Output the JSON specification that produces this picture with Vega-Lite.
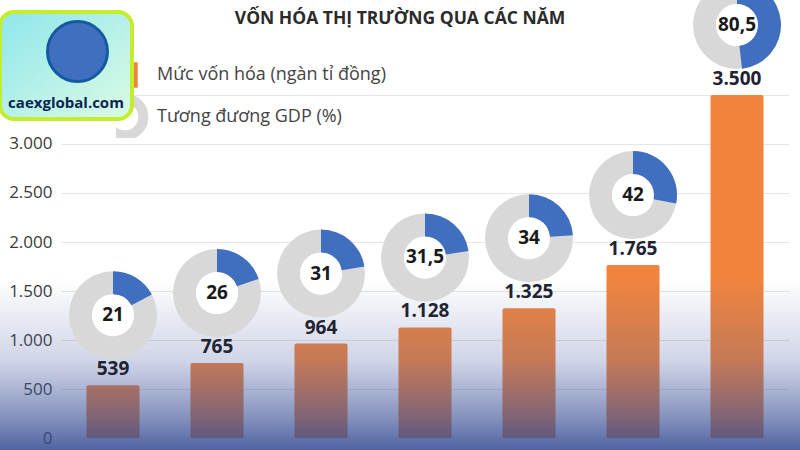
{
  "$schema": "https://vega.github.io/schema/vega-lite/v6.json",
  "width": 800,
  "height": 450,
  "padding": 0,
  "autosize": {"type": "none"},
  "background": "#ffffff",
  "config": {
    "locale": {"number": {"decimal": ",", "thousands": ".", "grouping": [3], "currency": ["", " ₫"]}},
    "view": {"stroke": null},
    "font": "Open Sans"
  },
  "title": {
    "text": "VỐN HÓA THỊ TRƯỜNG QUA CÁC NĂM",
    "anchor": "middle",
    "frame": "group",
    "offset": -47,
    "fontSize": 17.5,
    "fontWeight": "bold",
    "color": "#2b2b2b",
    "font": "Open Sans"
  },
  "data": {
    "values": [
      {"stt": 1, "von": 539, "gdp": 21},
      {"stt": 2, "von": 765, "gdp": 26},
      {"stt": 3, "von": 964, "gdp": 31},
      {"stt": 4, "von": 1128, "gdp": 31.5},
      {"stt": 5, "von": 1325, "gdp": 34},
      {"stt": 6, "von": 1765, "gdp": 42},
      {"stt": 7, "von": 3500, "gdp": 80.5}
    ]
  },
  "resolve": {"scale": {"color": "independent"}},
  "layer": [
    {
      "mark": {"type": "bar", "cornerRadiusTopLeft": 2, "cornerRadiusTopRight": 2},
      "encoding": {
        "x": {"field": "stt", "type": "ordinal", "axis": null, "scale": {"range": [61, 789], "paddingInner": 0.49, "paddingOuter": 0.245}},
        "y": {
          "field": "von", "type": "quantitative", "title": null,
          "scale": {"domain": [-122, 4469], "nice": false, "zero": false},
          "axis": {
            "values": [0, 500, 1000, 1500, 2000, 2500, 3000, 3500],
            "format": ",.0f",
            "offset": -56,
            "domain": false,
            "ticks": false,
            "labelPadding": 4,
            "labelFontSize": 17,
            "labelColor": "#3a3a3a",
            "labelFont": "Open Sans",
            "grid": true,
            "gridColor": "#e6e6e6"
          }
        },
        "y2": {"datum": 0},
        "color": {
          "datum": "Mức vốn hóa (ngàn tỉ đồng)",
          "scale": {"domain": ["Mức vốn hóa (ngàn tỉ đồng)", "Tương đương GDP (%)"], "range": ["#f0843f", "#d8d8d8"]},
          "legend": {
            "orient": "none",
            "legendX": 116,
            "legendY": 54,
            "title": null,
            "padding": 0,
            "symbolType": "circle",
            "symbolSize": 1350,
            "symbolStrokeWidth": 10,
            "clipHeight": 42,
            "labelOffset": 23,
            "rowPadding": 0,
            "labelFontSize": 18,
            "labelColor": "#444444",
            "labelFont": "Open Sans",
            "labelLimit": 400,
            "encode": {
              "symbols": {
                "update": {
                  "shape": {"signal": "datum.index === 0 ? 'square' : 'circle'"},
                  "size": {"signal": "datum.index === 0 ? 650 : 1350"},
                  "fillOpacity": {"signal": "datum.index === 0 ? 1 : 0"},
                  "stroke": {"signal": "datum.index === 0 ? null : '#d8d8d8'"},
                  "strokeWidth": {"signal": "datum.index === 0 ? 0 : 10"}
                }
              }
            }
          }
        }
      }
    },
    {
      "data": {"values": [{}]},
      "mark": {
        "type": "rect",
        "color": {
          "gradient": "linear", "x1": 0, "y1": 0, "x2": 0, "y2": 1,
          "stops": [
            {"offset": 0, "color": "rgba(70,90,160,0)"},
            {"offset": 0.62, "color": "rgba(70,90,160,0)"},
            {"offset": 0.8, "color": "rgba(70,90,160,0.25)"},
            {"offset": 0.92, "color": "rgba(60,80,150,0.6)"},
            {"offset": 1, "color": "rgba(50,72,145,0.85)"}
          ]
        }
      }
    },
    {
      "mark": {"type": "arc", "innerRadius": 21, "outerRadius": 44, "theta": 0, "theta2": 6.2832, "color": "#d8d8d8", "yOffset": -70},
      "encoding": {
        "x": {"field": "stt", "type": "ordinal", "axis": null},
        "y": {"field": "von", "type": "quantitative", "title": null}
      }
    },
    {
      "mark": {"type": "arc", "innerRadius": 0, "outerRadius": 21, "theta": 0, "theta2": 6.2832, "color": "#ffffff", "yOffset": -70},
      "encoding": {
        "x": {"field": "stt", "type": "ordinal", "axis": null},
        "y": {"field": "von", "type": "quantitative", "title": null}
      }
    },
    {
      "mark": {"type": "arc", "innerRadius": 21, "outerRadius": 44, "yOffset": -70},
      "encoding": {
        "x": {"field": "stt", "type": "ordinal", "axis": null},
        "y": {"field": "von", "type": "quantitative", "title": null},
        "theta": {"field": "gdp", "type": "quantitative", "stack": null, "scale": {"domain": [-12, 180], "range": [0, 6.2832], "zero": false}},
        "theta2": {"datum": -12},
        "color": {
          "datum": "caexglobal.com",
          "scale": {"domain": ["caexglobal.com"], "range": ["#3f6fbe"]},
          "legend": {
            "orient": "none",
            "legendX": 0,
            "legendY": 12,
            "title": "caexglobal.com",
            "titleOrient": "bottom",
            "titleAnchor": "middle",
            "titleFontSize": 15,
            "titleFontWeight": "bold",
            "titleColor": "#0b2552",
            "titleFont": "Open Sans",
            "titlePadding": 8,
            "labelExpr": "''",
            "symbolType": "circle",
            "symbolSize": 3600,
            "symbolOffset": 28,
            "padding": 8,
            "cornerRadius": 14,
            "fillColor": "#a8efea",
            "strokeColor": "#c4ee2c",
            "encode": {
              "legend": {
                "update": {
                  "strokeWidth": {"value": 4},
                  "fill": {"value": {"gradient": "linear", "x1": 0, "y1": 0, "x2": 1, "y2": 1, "stops": [{"offset": 0, "color": "#8fe6ec"}, {"offset": 1, "color": "#dcfbe4"}]}}
                }
              },
              "symbols": {
                "update": {
                  "fill": {"value": {"gradient": "linear", "x1": 0, "y1": 0, "x2": 1, "y2": 1, "stops": [{"offset": 0, "color": "#5cc2ea"}, {"offset": 1, "color": "#1b5fa8"}]}},
                  "stroke": {"value": "#145a9e"},
                  "strokeWidth": {"value": 3}
                }
              }
            }
          }
        }
      }
    },
    {
      "mark": {"type": "text", "fontSize": 19, "fontWeight": "bold", "color": "#1f2433", "dy": -16, "font": "Open Sans"},
      "encoding": {
        "x": {"field": "stt", "type": "ordinal", "axis": null},
        "y": {"field": "von", "type": "quantitative", "title": null},
        "text": {"field": "von", "type": "quantitative", "format": ",.0f"}
      }
    },
    {
      "mark": {"type": "text", "fontSize": 19, "fontWeight": "bold", "color": "#1a1a1a", "yOffset": -70, "font": "Open Sans"},
      "encoding": {
        "x": {"field": "stt", "type": "ordinal", "axis": null},
        "y": {"field": "von", "type": "quantitative", "title": null},
        "text": {"field": "gdp", "type": "quantitative", "format": ".1~f"}
      }
    }
  ]
}
